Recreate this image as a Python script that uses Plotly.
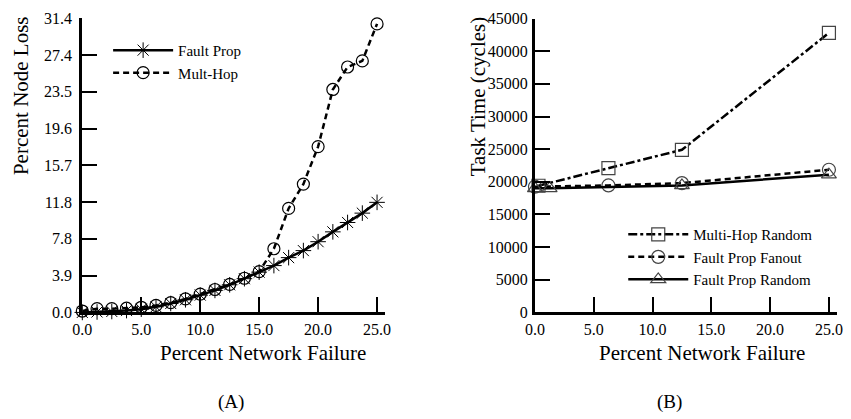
import plotly.graph_objects as go

W, H = 851, 419
FONT = "Liberation Serif, Times New Roman, serif"

# ---------- data: panel (A) ----------
failure_a = [0.0, 1.25, 2.5, 3.75, 5.0, 6.25, 7.5, 8.75, 10.0, 11.25, 12.5,
             13.75, 15.0, 16.25, 17.5, 18.75, 20.0, 21.25, 22.5, 23.75, 25.0]
fault_prop_loss = [0.0, 0.05, 0.1, 0.2, 0.35, 0.6, 0.95, 1.35, 1.85, 2.35, 2.95,
                   3.6, 4.3, 5.0, 5.85, 6.6, 7.55, 8.6, 9.6, 10.6, 11.75]
mult_hop_loss = [0.15, 0.4, 0.4, 0.45, 0.55, 0.75, 1.05, 1.45, 1.95, 2.45, 3.0,
                 3.65, 4.35, 6.8, 11.1, 13.7, 17.7, 23.8, 26.2, 26.85, 30.8]
yticks_a = [0.0, 3.925, 7.85, 11.775, 15.7, 19.625, 23.55, 27.475, 31.4]
yticktext_a = ["0.0", "3.9", "7.8", "11.8", "15.7", "19.6", "23.5", "27.4", "31.4"]
xticks = [0, 5, 10, 15, 20, 25]

# ---------- data: panel (B) ----------
mh_random_x = [0.3, 6.25, 12.5, 25.0]
mh_random_t = [19400, 22100, 24900, 42800]
fp_fanout_x = [0.0, 6.25, 12.5, 25.0]
fp_fanout_t = [19250, 19450, 19800, 21850]
fp_random_x = [0.0, 1.25, 12.5, 25.0]
fp_random_t = [19000, 19000, 19450, 21100]
yticks_b = [0, 5000, 10000, 15000, 20000, 25000, 30000, 35000, 40000, 45000]

MK = "#444444"

def px(x):
    return x / W

def py(y):
    return 1 - y / H

fig = go.Figure()

fig.add_trace(go.Scatter(
    x=failure_a, y=fault_prop_loss, name="Fault Prop", mode="lines+markers",
    line=dict(color="black", width=2.5, dash="solid"),
    marker=dict(symbol="asterisk-open", size=13, line=dict(color=MK, width=1)),
    xaxis="x", yaxis="y", cliponaxis=False, legend="legend"))
fig.add_trace(go.Scatter(
    x=failure_a, y=mult_hop_loss, name="Mult-Hop", mode="lines+markers",
    line=dict(color="black", width=2.5, dash="6px,4px"),
    marker=dict(symbol="circle-open", size=12, color="black", line=dict(color="black", width=1.2)),
    xaxis="x", yaxis="y", cliponaxis=False, legend="legend"))

fig.add_trace(go.Scatter(
    x=mh_random_x, y=mh_random_t, name="Multi-Hop Random", mode="lines+markers",
    line=dict(color="black", width=2.5, dash="dashdot"),
    marker=dict(symbol="square-open", size=13, color=MK, line=dict(color=MK, width=1.2)),
    xaxis="x2", yaxis="y2", cliponaxis=False, legend="legend2"))
fig.add_trace(go.Scatter(
    x=fp_fanout_x, y=fp_fanout_t, name="Fault Prop Fanout", mode="lines+markers",
    line=dict(color="black", width=2.5, dash="6px,4px"),
    marker=dict(symbol="circle-open", size=13, color=MK, line=dict(color=MK, width=1.2)),
    xaxis="x2", yaxis="y2", cliponaxis=False, legend="legend2"))
fig.add_trace(go.Scatter(
    x=fp_random_x, y=fp_random_t, name="Fault Prop Random", mode="lines+markers",
    line=dict(color="black", width=2.5, dash="solid"),
    marker=dict(symbol="triangle-up-open", size=13, color=MK, line=dict(color=MK, width=1.2)),
    xaxis="x2", yaxis="y2", cliponaxis=False, legend="legend2"))

axis_common = dict(showline=True, linewidth=3, linecolor="black", ticks="inside",
                   ticklen=15, tickwidth=2, tickcolor="black", showgrid=False,
                   zeroline=False, tickfont=dict(family=FONT, size=16, color="black"))

fig.update_layout(
    width=W, height=H, paper_bgcolor="white", plot_bgcolor="white",
    margin=dict(l=0, r=0, t=0, b=0),
    font=dict(family=FONT, color="black"),
    xaxis=dict(domain=[px(73.7), px(382.5)], range=[0, 25.7], anchor="y",
               tickvals=xticks, ticktext=[f"{v:.1f}" for v in xticks], **axis_common),
    yaxis=dict(domain=[py(317.3), py(10.7)], range=[0, 31.4], anchor="x",
               tickvals=yticks_a, ticktext=yticktext_a, ticklabelstandoff=4, **axis_common),
    xaxis2=dict(domain=[px(535), px(843)], range=[0, 25.7], anchor="y2",
                tickvals=xticks, ticktext=[f"{v:.1f}" for v in xticks], **axis_common),
    yaxis2=dict(domain=[py(317.3), py(11)], range=[0, 45000], anchor="x2",
                tickvals=yticks_b, ticktext=[str(v) for v in yticks_b], ticklabelstandoff=1,
                **axis_common),
    legend=dict(x=px(100), y=py(27), xanchor="left", yanchor="top",
                bgcolor="rgba(0,0,0,0)", itemwidth=60,
                font=dict(family=FONT, size=15, color="black"), tracegroupgap=0),
    legend2=dict(x=px(625), y=py(219), xanchor="left", yanchor="top",
                 bgcolor="rgba(0,0,0,0)", itemwidth=60,
                 font=dict(family=FONT, size=15, color="black"), tracegroupgap=0),
    showlegend=True,
)

ann = [
    dict(text="Percent Node Loss", x=px(12), y=py(91), textangle=-90, size=21),
    dict(text="Task Time (cycles)", x=px(477), y=py(92), textangle=-90, size=21),
    dict(text="Percent Network Failure", x=px(258), y=py(360), textangle=0, size=21),
    dict(text="Percent Network Failure", x=px(705), y=py(360), textangle=0, size=21),
    dict(text="(A)", x=px(225), y=py(411), textangle=0, size=19),
    dict(text="(B)", x=px(672), y=py(411), textangle=0, size=19),
]
for a in ann:
    fig.add_annotation(text=a["text"], x=a["x"], y=a["y"], xref="paper", yref="paper",
                       xanchor="center", yanchor="middle", showarrow=False,
                       textangle=a["textangle"],
                       font=dict(family=FONT, size=a["size"], color="black"))

fig.write_html("out.html", config={"displayModeBar": False},
               post_script="document.body.style.margin='0px';")
